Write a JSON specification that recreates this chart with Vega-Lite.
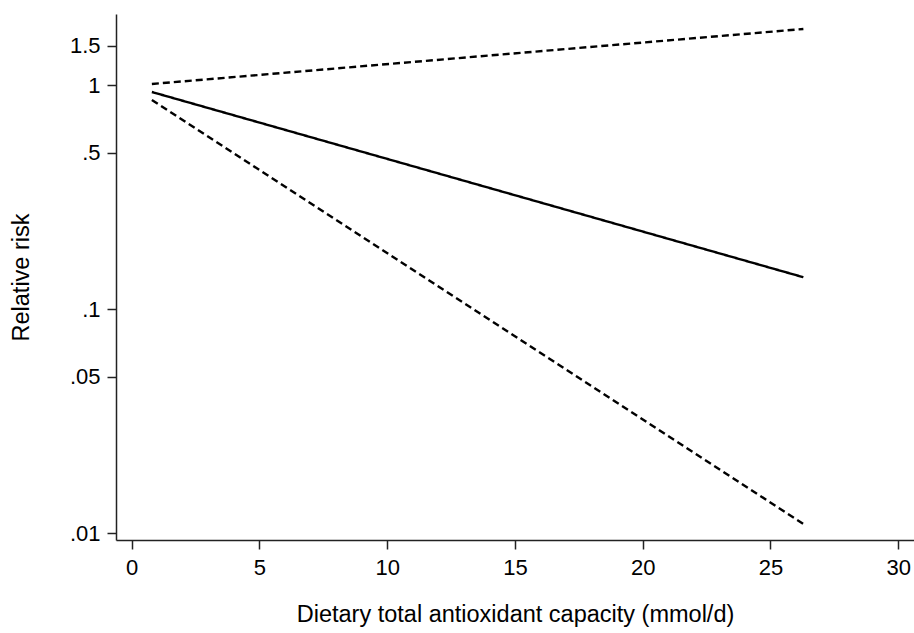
{
  "$schema": "https://vega.github.io/schema/vega-lite/v6.json",
  "autosize": "none",
  "width": 798,
  "height": 526,
  "padding": {"left": 116, "top": 14, "right": 0, "bottom": 93},
  "background": "white",
  "config": {
    "view": {"stroke": null},
    "font": "Liberation Sans",
    "axis": {
      "grid": false,
      "domainColor": "#222222",
      "domainWidth": 1.5,
      "tickColor": "#222222",
      "tickWidth": 1.5,
      "tickSize": 9,
      "labelFont": "Liberation Sans",
      "labelFontSize": 22,
      "labelColor": "#000000",
      "titleFont": "Liberation Sans",
      "titleFontSize": 23.5,
      "titleFontWeight": "normal",
      "titleColor": "#000000"
    }
  },
  "data": {
    "values": [
      {"series": "Relative risk", "x": 0.79, "rr": 0.933},
      {"series": "Relative risk", "x": 26.29, "rr": 0.139},
      {"series": "Lower 95% CI", "x": 0.79, "rr": 0.86},
      {"series": "Lower 95% CI", "x": 26.29, "rr": 0.011},
      {"series": "Upper 95% CI", "x": 0.79, "rr": 1.013},
      {"series": "Upper 95% CI", "x": 26.29, "rr": 1.783}
    ]
  },
  "mark": {"type": "line", "color": "#000000", "strokeWidth": 2.4, "clip": true},
  "encoding": {
    "x": {
      "field": "x",
      "type": "quantitative",
      "scale": {"domain": [-0.614, 30.62], "nice": false, "zero": false},
      "axis": {
        "values": [0, 5, 10, 15, 20, 25, 30],
        "title": "Dietary total antioxidant capacity (mmol/d)",
        "labelPadding": 8,
        "titlePadding": 24,
        "labelFlush": false
      }
    },
    "y": {
      "field": "rr",
      "type": "quantitative",
      "scale": {"type": "log", "domain": [0.00933, 2.08], "nice": false},
      "axis": {
        "values": [0.01, 0.05, 0.1, 0.5, 1, 1.5],
        "labelExpr": "replace(toString(datum.value), /^0\\./, '.')",
        "title": "Relative risk",
        "labelPadding": 7,
        "titlePadding": 36,
        "labelFlush": false
      }
    },
    "detail": {"field": "series"},
    "strokeDash": {
      "field": "series",
      "type": "nominal",
      "scale": {
        "domain": ["Relative risk", "Lower 95% CI", "Upper 95% CI"],
        "range": [[1, 0], [7, 4], [7, 4]]
      },
      "legend": null
    }
  }
}
